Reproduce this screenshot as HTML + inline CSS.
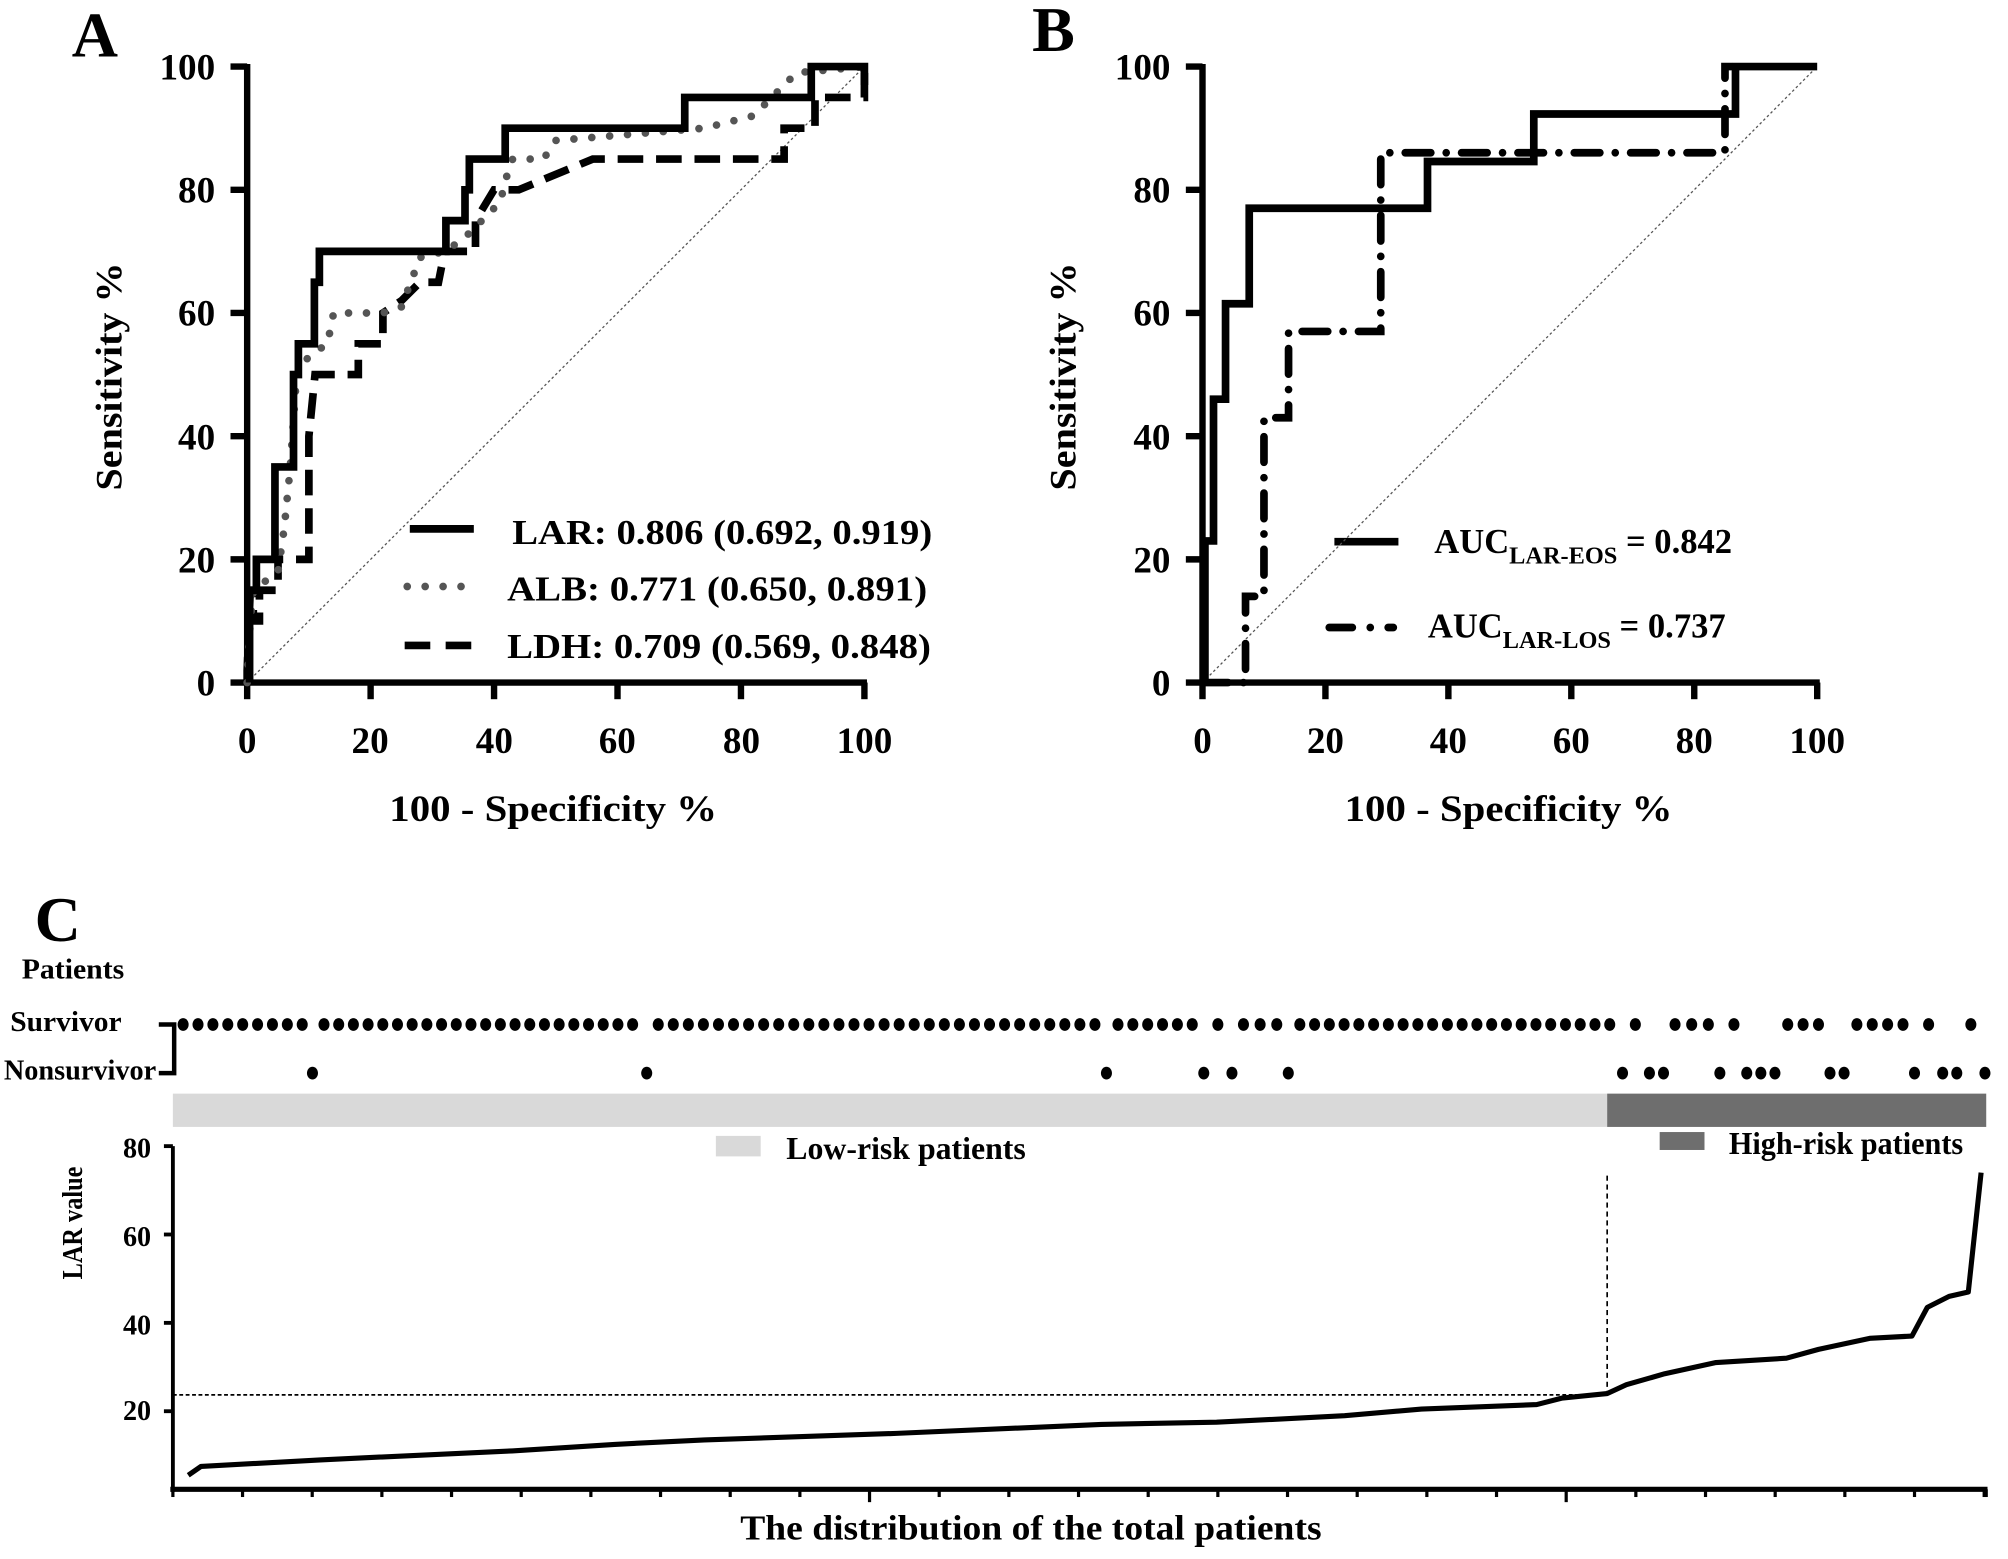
<!DOCTYPE html>
<html><head><meta charset="utf-8"><style>
html,body{margin:0;padding:0;background:#fff;}
svg{display:block;}
svg text{font-family:"Liberation Serif","Times New Roman",serif !important;font-weight:bold;fill:#000;}
</style></head><body>
<svg id="s" width="2008" height="1559" viewBox="0 0 1568 1217.4" preserveAspectRatio="none" xmlns="http://www.w3.org/2000/svg" font-family="Liberation Serif, serif" font-weight="bold">
<rect width="1568" height="1218" fill="#fff"/>
<!-- Panel A -->
<text x="56" y="44" font-size="50">A</text>
<g font-size="29" text-anchor="end">
<text x="168" y="62">100</text><text x="168" y="158">80</text><text x="168" y="254">60</text><text x="168" y="351">40</text><text x="168" y="447">20</text><text x="168" y="543">0</text>
</g>
<g font-size="29" text-anchor="middle">
<text x="193" y="588">0</text><text x="289" y="588">20</text><text x="386" y="588">40</text><text x="482" y="588">60</text><text x="579" y="588">80</text><text x="675" y="588">100</text>
</g>
<text x="432" y="641" font-size="29" text-anchor="middle" textLength="256" lengthAdjust="spacingAndGlyphs">100 - Specificity %</text>
<text transform="translate(95,294) rotate(-90)" font-size="29" text-anchor="middle" textLength="178" lengthAdjust="spacingAndGlyphs">Sensitivity %</text>
<text x="400" y="425" font-size="27" textLength="328" lengthAdjust="spacingAndGlyphs">LAR: 0.806 (0.692, 0.919)</text>
<text x="396" y="469" font-size="27" textLength="328" lengthAdjust="spacingAndGlyphs">ALB: 0.771 (0.650, 0.891)</text>
<text x="396" y="514" font-size="27" textLength="331" lengthAdjust="spacingAndGlyphs">LDH: 0.709 (0.569, 0.848)</text>
<line x1="320" y1="413" x2="370" y2="413" stroke="#000" stroke-width="6"/>
<line x1="318" y1="458" x2="372" y2="458" stroke="#555" stroke-width="6" stroke-linecap="round" stroke-dasharray="0 14"/>
<line x1="316" y1="504" x2="372" y2="504" stroke="#000" stroke-width="6" stroke-dasharray="20 12"/>
<!-- Panel B -->
<text x="806" y="40" font-size="50">B</text>
<g font-size="29" text-anchor="end">
<text x="914" y="62">100</text><text x="914" y="158">80</text><text x="914" y="254">60</text><text x="914" y="351">40</text><text x="914" y="447">20</text><text x="914" y="543">0</text>
</g>
<g font-size="29" text-anchor="middle">
<text x="939" y="588">0</text><text x="1035" y="588">20</text><text x="1131" y="588">40</text><text x="1227" y="588">60</text><text x="1323" y="588">80</text><text x="1419" y="588">100</text>
</g>
<text x="1178" y="641" font-size="29" text-anchor="middle" textLength="256" lengthAdjust="spacingAndGlyphs">100 - Specificity %</text>
<text transform="translate(840,294) rotate(-90)" font-size="29" text-anchor="middle" textLength="178" lengthAdjust="spacingAndGlyphs">Sensitivity %</text>
<line x1="1042" y1="423" x2="1092" y2="423" stroke="#000" stroke-width="6"/>
<line x1="1038" y1="490" x2="1088" y2="490" stroke="#000" stroke-width="6" stroke-linecap="round" stroke-dasharray="18 14 0 14"/>
<text x="1120" y="432" font-size="27">AUC<tspan font-size="19" dy="8">LAR-EOS</tspan><tspan dy="-8"> = 0.842</tspan></text>
<text x="1115" y="498" font-size="27">AUC<tspan font-size="19" dy="8">LAR-LOS</tspan><tspan dy="-8"> = 0.737</tspan></text>
<!-- Panel C -->
<text x="27" y="735" font-size="50">C</text>
<text x="17" y="764" font-size="22" textLength="80" lengthAdjust="spacingAndGlyphs">Patients</text>
<text x="8" y="805" font-size="22" textLength="87" lengthAdjust="spacingAndGlyphs">Survivor</text>
<text x="3" y="843" font-size="22" textLength="119" lengthAdjust="spacingAndGlyphs">Nonsurvivor</text>
<path d="M124 800 H136 V838 H124" fill="none" stroke="#000" stroke-width="3.5"/>
<rect x="135" y="854" width="1120" height="26" fill="#d9d9d9"/>
<rect x="1255" y="854" width="296" height="26" fill="#6e6e6e"/>
<rect x="559" y="887" width="35" height="16" fill="#d9d9d9"/>
<text x="614" y="905" font-size="25" textLength="187" lengthAdjust="spacingAndGlyphs">Low-risk patients</text>
<rect x="1296" y="884" width="35" height="14" fill="#6e6e6e"/>
<text x="1350" y="901" font-size="25" textLength="183" lengthAdjust="spacingAndGlyphs">High-risk patients</text>
<g font-size="22" text-anchor="end">
<text x="118" y="904">80</text><text x="118" y="973">60</text><text x="118" y="1042">40</text><text x="118" y="1109">20</text>
</g>
<text transform="translate(64,955) rotate(-90)" font-size="22" text-anchor="middle" textLength="88" lengthAdjust="spacingAndGlyphs">LAR value</text>
<text x="805" y="1202" font-size="27" text-anchor="middle" textLength="454" lengthAdjust="spacingAndGlyphs">The distribution of the total patients</text>
<g id="dyn"></g>
</svg>
<script>
var NS="http://www.w3.org/2000/svg",g=document.getElementById('dyn');
function el(t,a){var e=document.createElementNS(NS,t);for(var k in a)e.setAttribute(k,a[k]);g.appendChild(e);return e;}
function path(pts,fx,fy,a){var d='';pts.forEach(function(p,i){d+=(i?'L':'M')+fx(p[0]).toFixed(1)+' '+fy(p[1]).toFixed(1);});a.d=d;a.fill='none';el('path',a);}
var ax=function(x){return 193+4.82*x},ay=function(y){return 533-4.81*y};
var bx=function(x){return 939+4.80*x},by=ay;
[[ax,ay],[bx,by]].forEach(function(f){
 var X=f[0],Y=f[1];
 el('line',{x1:X(0),y1:Y(0)-2,x2:X(0),y2:Y(100)-2,stroke:'#000','stroke-width':5});
 el('line',{x1:X(0)-2,y1:Y(0),x2:X(100)+2,y2:Y(0),stroke:'#000','stroke-width':5});
 for(var i=0;i<=100;i+=20){el('line',{x1:X(0)-13,y1:Y(i),x2:X(0),y2:Y(i),stroke:'#000','stroke-width':5});
 el('line',{x1:X(i),y1:Y(0),x2:X(i),y2:Y(0)+13,stroke:'#000','stroke-width':5});}
 el('line',{x1:X(0),y1:Y(0),x2:X(100),y2:Y(100),stroke:'#555','stroke-width':1,'stroke-dasharray':'2 2'});
});
path([[0,0],[0,2],[0.5,15],[1,15],[1,10],[2,10],[2,15],[5,15],[5,20],[10,20],[10,40],[11,50],[18,50],[18,55],[22,55],[22,60],[25,62],[28,65],[31,65],[32,70],[37,70],[37,75],[40,80],[44,80],[56,85],[87,85],[87,90],[92,90],[92,95],[100,95],[100,100]],ax,ay,{stroke:'#000','stroke-width':6,'stroke-dasharray':'20 10'});
path([[0,0],[0.5,10],[1,15],[5,18],[6,25],[7,35],[8,50],[10,53],[13,55],[14,60],[22,60],[25,61],[28,69],[32,70],[35,72],[38,75],[41,78],[42,82],[43,85],[48,85],[50,88],[74,90],[82,92],[89,99],[100,100]],ax,ay,{stroke:'#555','stroke-width':6,'stroke-linecap':'round','stroke-dasharray':'0 14'});
path([[0.4,0],[0.4,15],[1.5,15],[1.5,20],[4.5,20],[4.5,35],[7.5,35],[7.5,50],[8.3,50],[8.3,55],[10.9,55],[10.9,65],[11.7,65],[11.7,70],[32.2,70],[32.2,75],[35.3,75],[35.3,80],[36,80],[36,85],[41.8,85],[41.8,90],[70.9,90],[70.9,95],[91.4,95],[91.4,100],[100,100],[100,97]],ax,ay,{stroke:'#000','stroke-width':6});
path([[0,0],[7,0],[7,14],[10,14],[10,43],[14,43],[14,57],[29,57],[29,86],[85,86],[85,100],[86,100]],bx,by,{stroke:'#000','stroke-width':6,'stroke-linecap':'round','stroke-dasharray':'20 12 0 12'});
path([[0.4,0],[0.4,23],[1.8,23],[1.8,46],[3.75,46],[3.75,61.5],[7.6,61.5],[7.6,77],[36.6,77],[36.6,84.6],[53.9,84.6],[53.9,92.3],[86.7,92.3],[86.7,100],[100,100]],bx,by,{stroke:'#000','stroke-width':6});
function grp(a,b,y){var n=Math.max(1,Math.round((b-a)/11.7)+1);for(var i=0;i<n;i++){var x=n==1?a:a+(b-a)*i/(n-1);el('ellipse',{cx:x,cy:y,rx:4.3,ry:5,fill:'#000'});}}
[[143,236],[253,494],[514,855],[873,931],[951,951],[971,997],[1015,1257],[1277,1277],[1308,1334],[1354,1354],[1396,1420],[1450,1486],[1506,1506],[1539,1539]].forEach(function(r){grp(r[0],r[1],800);});
[244,505,864,940,962,1006,1267,1288,1299,1343,1364,1375,1386,1429,1440,1495,1517,1528,1550].forEach(function(x){grp(x,x,838);});
var cy=function(v){return 1171-3.45*v};
el('line',{x1:135,y1:895,x2:135,y2:1165,stroke:'#000','stroke-width':3});
[20,40,60,80].forEach(function(v){el('line',{x1:128,y1:cy(v),x2:135,y2:cy(v),stroke:'#000','stroke-width':3});});
el('line',{x1:133,y1:1163,x2:1552,y2:1163,stroke:'#000','stroke-width':4});
for(var i=0;i<27;i++){var x=135+i*54.4;var L=(i==10||i==20)?10:6;el('line',{x1:x,y1:1163,x2:x,y2:1163+L,stroke:'#000','stroke-width':2.5});}
el('line',{x1:1551,y1:1163,x2:1551,y2:1169,stroke:'#000','stroke-width':2.5});
el('line',{x1:135,y1:cy(23.7),x2:1255,y2:cy(23.7),stroke:'#000','stroke-width':1.3,'stroke-dasharray':'3 2'});
el('line',{x1:1255,y1:918,x2:1255,y2:cy(23.7),stroke:'#000','stroke-width':1.3,'stroke-dasharray':'4 3'});
var cp=[[147,5.5],[157,7.5],[250,9],[400,11],[480,12.5],[550,13.5],[700,15],[860,17],[950,17.5],[1050,19],[1110,20.5],[1200,21.5],[1220,23],[1255,24],[1270,26],[1300,28.5],[1340,31],[1395,32],[1420,34],[1460,36.5],[1493,37],[1505,43.5],[1522,46],[1537,47],[1547,74]];
path(cp,function(x){return x},cy,{stroke:'#000','stroke-width':4,'stroke-linejoin':'round'});
</script>
</body></html>
